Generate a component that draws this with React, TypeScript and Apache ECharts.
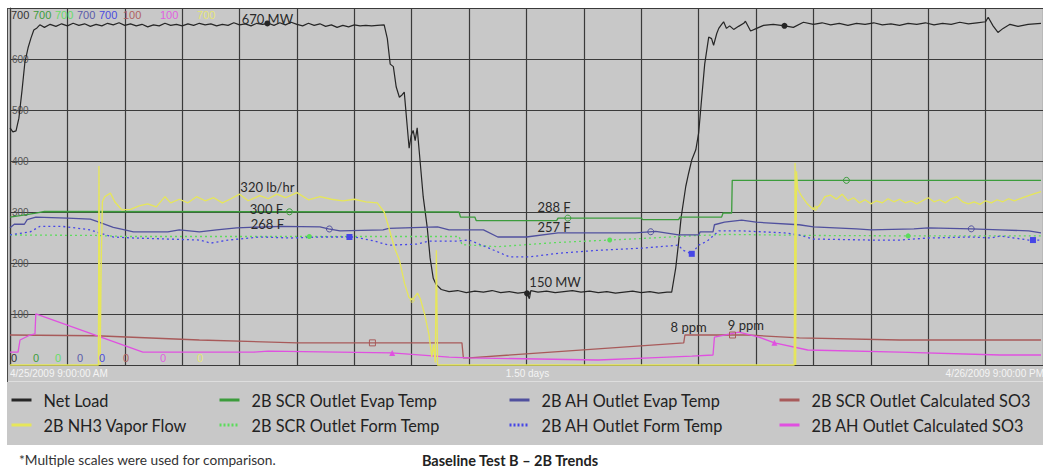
import React, { useEffect, useRef } from 'react';
import * as echarts from 'echarts';

// ---------- DATA ----------
const seriesNames = [
  'Net Load',
  '2B NH3 Vapor Flow',
  '2B SCR Outlet Evap Temp',
  '2B SCR Outlet Form Temp',
  '2B AH Outlet Evap Temp',
  '2B AH Outlet Form Temp',
  '2B SCR Outlet Calculated SO3',
  '2B AH Outlet Calculated SO3',
];

// time in hours since 4/25/2009 9:00 AM, value in MW
const netLoad: [number, number][] = [
  [0, 465], [0.1, 457], [0.21, 459], [0.31, 484], [0.42, 539], [0.52, 594], [0.63, 622], [0.73, 641], [0.83, 657], [0.94, 661],
  [1.04, 667], [1.2, 662], [1.4, 668], [1.6, 664], [1.8, 669], [2.0, 665], [2.2, 670], [2.4, 666], [2.6, 669], [2.8, 664],
  [3.0, 668], [3.2, 665], [3.4, 670], [3.6, 667], [3.8, 671], [4.0, 666], [4.2, 669], [4.4, 665], [4.6, 668], [4.8, 663],
  [5.0, 667], [5.2, 665], [5.4, 670], [5.6, 666], [5.8, 668], [6.0, 665], [6.2, 669], [6.4, 666], [6.6, 670], [6.8, 667],
  [7.0, 669], [7.2, 665], [7.4, 668], [7.6, 666], [7.8, 671], [8.0, 667], [8.2, 669], [8.4, 665], [8.6, 670], [8.8, 668],
  [9.0, 670], [9.2, 666], [9.4, 671], [9.6, 667], [9.8, 672], [10.0, 668], [10.2, 665], [10.4, 670], [10.6, 666], [10.8, 669],
  [11.0, 664], [11.2, 667], [11.4, 662], [11.6, 666], [11.8, 663], [12.0, 667], [12.2, 665], [12.4, 666], [12.6, 665], [12.8, 666],
  [13.04, 667], [13.15, 640], [13.25, 590], [13.36, 585], [13.46, 545], [13.57, 525], [13.67, 530], [13.74, 535], [13.84, 470],
  [13.91, 425], [13.98, 450], [14.05, 460], [14.12, 440], [14.19, 465], [14.26, 420], [14.4, 330], [14.54, 270], [14.64, 210],
  [14.75, 170], [14.85, 158], [15.03, 148], [15.3, 144], [15.6, 146], [15.9, 142], [16.2, 145], [16.5, 143], [16.8, 146],
  [17.1, 142], [17.4, 144], [17.7, 141], [18.0, 143], [18.1, 130], [18.15, 146], [18.4, 143], [18.7, 145], [19.0, 142],
  [19.3, 144], [19.6, 146], [19.9, 143], [20.2, 145], [20.5, 142], [20.8, 144], [21.1, 141], [21.4, 143], [21.7, 145],
  [22.0, 142], [22.3, 144], [22.6, 141], [22.9, 143], [23.06, 143], [23.2, 190], [23.3, 240], [23.39, 290], [23.55, 350],
  [23.65, 376], [23.76, 402], [23.9, 422], [24.0, 455], [24.1, 520], [24.21, 590], [24.35, 643], [24.45, 640], [24.52, 627],
  [24.63, 650], [24.7, 660], [24.8, 668], [24.87, 673], [24.97, 660], [25.08, 665], [25.22, 658], [25.39, 664], [25.57, 670],
  [25.63, 674], [25.81, 655], [26.02, 660], [26.26, 666], [26.6, 668], [27.0, 665], [27.3, 662], [27.65, 672], [28.0, 668],
  [28.3, 671], [28.6, 667], [28.9, 670], [29.2, 666], [29.5, 670], [29.8, 668], [30.1, 671], [30.4, 667], [30.7, 669],
  [31.0, 666], [31.3, 670], [31.6, 668], [31.9, 671], [32.2, 667], [32.5, 670], [32.8, 668], [33.1, 672], [33.4, 669],
  [33.7, 671], [34.0, 673], [34.09, 682], [34.26, 665], [34.43, 652], [34.61, 660], [34.85, 668], [35.13, 664], [35.48, 668],
  [35.93, 670],
];

// lb/hr
const nh3Flow: [number, number][] = [
  [0, 0], [3.08, 0], [3.1, 390], [3.14, 0], [3.18, 200], [3.22, 320], [3.3, 330], [3.5, 337], [3.65, 320], [3.9, 304],
  [4.2, 305], [4.5, 312], [4.8, 316], [5.1, 310], [5.4, 330], [5.6, 318], [5.9, 325], [6.2, 318], [6.5, 330], [6.8, 322],
  [7.1, 328], [7.4, 318], [7.7, 326], [8.0, 335], [8.3, 322], [8.7, 332], [9.0, 326], [9.3, 335], [9.6, 328], [10.0, 338],
  [10.4, 324], [10.8, 330], [11.2, 325], [11.6, 322], [12.0, 325], [12.4, 320], [12.8, 318], [13.04, 300], [13.2, 270],
  [13.4, 230], [13.57, 206], [13.75, 160], [13.9, 133], [14.02, 127], [14.2, 141], [14.3, 130], [14.45, 100], [14.6, 60],
  [14.7, 16], [14.76, 40], [14.82, 5], [14.86, 225], [14.9, 0], [27.33, 0], [27.36, 396], [27.38, 0], [27.41, 380],
  [27.45, 345], [27.6, 330], [27.8, 315], [28.0, 305], [28.2, 312], [28.4, 330], [28.6, 333], [28.8, 325], [29.0, 335],
  [29.2, 322], [29.4, 328], [29.6, 318], [29.8, 324], [30.0, 316], [30.2, 322], [30.4, 318], [30.6, 326], [30.8, 320],
  [31.0, 325], [31.2, 318], [31.4, 322], [31.6, 316], [31.8, 322], [32.0, 328], [32.2, 320], [32.4, 324], [32.6, 318],
  [32.8, 326], [33.0, 330], [33.2, 320], [33.4, 316], [33.6, 320], [33.8, 315], [34.0, 322], [34.2, 318], [34.4, 324],
  [34.6, 320], [34.8, 326], [35.0, 322], [35.3, 328], [35.6, 334], [35.93, 340],
];

// deg F
const scrEvapTemp: [number, number][] = [
  [0, 290], [0.35, 293], [0.9, 298], [1.2, 301], [15.65, 300], [15.7, 290], [16.2, 290], [16.25, 283], [19.05, 283],
  [19.1, 288], [22.0, 288], [22.05, 285], [23.3, 285], [23.35, 290], [24.8, 290], [24.85, 298], [25.15, 298], [25.17, 362],
  [35.93, 362],
];

const scrFormTemp: [number, number][] = [
  [0, 255], [3, 254], [4, 252], [8, 252], [12, 252], [15.65, 252], [15.75, 236], [17, 232], [19, 240], [20.5, 244],
  [22, 248], [24, 254], [25, 256], [28, 254], [32, 253], [35.93, 253],
];

const ahEvapTemp: [number, number][] = [
  [0, 269], [0.15, 276], [0.5, 276], [0.6, 285], [0.9, 290], [2.0, 288], [2.8, 286], [3.1, 280], [3.6, 270], [4.0, 265],
  [4.3, 261], [5.5, 261], [5.9, 265], [6.6, 261], [7.2, 265], [7.9, 269], [9.5, 272], [10.8, 271], [11.1, 267], [11.5, 263],
  [13.0, 265], [13.2, 268], [14.9, 271], [15.3, 265], [16.5, 265], [17.0, 251], [18.0, 251], [19.1, 259], [21.8, 259],
  [22.5, 262], [23.3, 255], [24.0, 255], [24.05, 261], [24.5, 261], [24.55, 275], [24.9, 280], [25.5, 284], [26.0, 280],
  [27.5, 275], [28.0, 271], [29.5, 267], [30.0, 265], [31.5, 267], [32.0, 269], [33.5, 267], [34.5, 265], [35.5, 263],
  [35.93, 259],
];

const ahFormTemp: [number, number][] = [
  [0, 255], [0.7, 261], [1.05, 272], [1.8, 272], [2.8, 265], [3.1, 259], [3.6, 251], [4.3, 249], [5.5, 247], [6.6, 245],
  [7.0, 239], [7.6, 245], [8.7, 251], [9.8, 249], [10.8, 251], [12.0, 251], [12.7, 243], [13.2, 235], [14.2, 237],
  [14.6, 243], [15.6, 243], [16.0, 245], [16.7, 229], [17.4, 212], [18.1, 212], [19.1, 219], [20.5, 225], [22.0, 229],
  [23.3, 235], [23.45, 225], [23.76, 218], [24.0, 235], [24.3, 243], [24.7, 263], [25.5, 263], [27.0, 259], [27.5, 255],
  [28.0, 247], [30.0, 245], [31.0, 245], [32.0, 249], [33.5, 251], [34.2, 249], [34.5, 253], [35.5, 245], [35.93, 245],
];

// ppm
const scrSO3: [number, number][] = [
  [0, 8.4], [3, 8.2], [6.6, 7.0], [10, 6.2], [15.75, 6.2], [15.8, 2.0], [16.0, 2.0], [23.48, 6.2], [23.52, 8.4],
  [25.7, 8.4], [27.5, 7.6], [31, 7.0], [35.93, 7.0],
];

const ahSO3: [number, number][] = [
  [0, 3.6], [0.28, 3.6], [0.35, 7.0], [0.7, 8.4], [0.87, 8.7], [0.9, 14.3], [4.63, 3.6], [8.5, 3.6], [9.0, 3.9],
  [13.3, 3.4], [15.3, 2.2], [16.0, 2.0], [20.5, 1.4], [22.3, 2.0], [23.76, 2.5], [24.5, 2.8], [24.55, 7.8], [25.4, 9.2],
  [26.1, 7.8], [26.64, 6.2], [27.8, 4.2], [31, 3.6], [34.5, 2.8], [35.93, 2.8],
];

// pen marker times (hours)
const netLoadMarks = [8.97, 18.02, 26.99];
const nh3Marks = [14.02, 28.07];
const scrEvapMarks = [9.74, 19.44, 29.15];
const scrFormMarks = [10.43, 20.9, 31.3];
const ahEvapMarks = [11.13, 22.33, 33.5];
const ahFormMarks = [11.83, 23.76, 35.65];
const scrSO3Marks = [12.63, 25.18];
const ahSO3Marks = [13.32, 26.64];

const annotationTexts = ['670 MW', '150 MW', '320 lb/hr', '300 F', '268 F', '288 F', '257 F', '8 ppm', '9 ppm'];
const annotationSeries = [0, 0, 1, 2, 4, 2, 4, 6, 7];
const annotationTimes = [8.97, 18.02, 8.97, 9.74, 8.97, 18.96, 18.96, 23.65, 25.4];

const scaleTopLabels = ['700', '700', '700', '700', '700', '100', '100', '700'];
const scaleBottomLabels = ['0', '0', '0', '0', '0', '0', '0', '0'];

const timeSpanHours = 36;
const xAxisLabels = ['4/25/2009 9:00:00 AM', '1.50 days', '4/26/2009 9:00:00 PM'];
const footnote = '*Multiple scales were used for comparison.';
const caption = 'Baseline Test B \u2013 2B Trends';

const legendColumns = [[0, 1], [2, 3], [4, 5], [6, 7]];

// ---------- STYLE / LAYOUT ----------
const W = 1043;
const H = 470;
const gridL = 10, gridT = 8, gridW = 1035, gridH = 357;
const plotBg = '#c8c8c8';
const seriesColors = ['#262626', '#e6e65a', '#3c9c3c', '#5cdc5c', '#50509e', '#4646e6', '#a85a5a', '#e050e0'];
const scaleLabelColors = ['#333333', '#3c9c3c', '#66dd66', '#5a5aaa', '#4a4ae0', '#b06060', '#e060e0', '#e6e676'];
const seriesDash: any[] = ['solid', 'solid', 'solid', [2, 3], 'solid', [2, 3], 'solid', 'solid'];
const seriesWidth = [1.2, 1.3, 1.3, 1.3, 1.3, 1.3, 1.3, 1.3];
const seriesAxis = [0, 0, 0, 0, 0, 0, 1, 1];
const allData = [netLoad, nh3Flow, scrEvapTemp, scrFormTemp, ahEvapTemp, ahFormTemp, scrSO3, ahSO3];
const allMarks = [netLoadMarks, nh3Marks, scrEvapMarks, scrFormMarks, ahEvapMarks, ahFormMarks, scrSO3Marks, ahSO3Marks];
const markShape = ['circle', 'circle', 'circle', 'circle', 'circle', 'rect', 'rect', 'triangle'];
const markFilled = [true, false, false, true, false, true, false, true];
const markSize = [6, 4, 6, 5, 6, 6, 6, 6];
const annotationOffsets = [[0, -4], [28, -11], [0, -11], [-23, -3], [0, -3], [0, -14], [0, -6], [0, -8], [7, -7]];
const scaleLabelX = [11, 33, 55, 77, 99, 123, 160, 197];

function interp(data: [number, number][], t: number): number {
  for (let i = 0; i < data.length - 1; i++) {
    const [t0, v0] = data[i];
    const [t1, v1] = data[i + 1];
    if (t >= t0 && t <= t1) {
      if (t1 === t0) return v0;
      return v0 + ((v1 - v0) * (t - t0)) / (t1 - t0);
    }
  }
  return data[data.length - 1][1];
}

function buildOption(): any {
  const series = seriesNames.map((name, i) => {
    const data = allData[i];
    const markers = allMarks[i].map((t) => ({
      coord: [t, interp(data, t)],
      symbol: markShape[i],
      symbolSize: markSize[i],
      itemStyle: markFilled[i]
        ? { color: seriesColors[i], borderWidth: 0 }
        : { color: 'rgba(0,0,0,0)', borderColor: seriesColors[i], borderWidth: 1 },
      label: { show: false },
    }));
    const notes = annotationTexts
      .map((text, k) => ({ text, k }))
      .filter(({ k }) => annotationSeries[k] === i)
      .map(({ text, k }) => ({
        coord: [annotationTimes[k], interp(data, annotationTimes[k])],
        symbol: 'circle',
        symbolSize: 1,
        itemStyle: { color: 'rgba(0,0,0,0)' },
        label: {
          show: true,
          formatter: text,
          position: 'inside',
          offset: annotationOffsets[k],
          color: '#2a2a2a',
          fontFamily: 'Lato',
          fontSize: 13,
        },
      }));
    return {
      name,
      type: 'line',
      data,
      yAxisIndex: seriesAxis[i],
      symbol: 'none',
      clip: false,
      z: i === 1 ? 3 : 2,
      lineStyle: { color: seriesColors[i], width: seriesWidth[i], type: seriesDash[i] },
      itemStyle: { color: seriesColors[i] },
      markPoint: {
        silent: true,
        animation: false,
        label: { show: false },
        data: [...markers, ...notes],
      },
    };
  });

  const legends = legendColumns.map((col, ci) => ({
    show: true,
    orient: 'vertical',
    left: [10, 218, 508, 778][ci],
    top: 392,
    itemGap: 9,
    itemWidth: 20,
    itemHeight: 14,
    selectedMode: false,
    padding: 0,
    itemStyle: { opacity: 0 },
    textStyle: { fontFamily: 'Lato', fontSize: 16.3, color: '#222', padding: [0, 0, 0, 7], lineHeight: 14 },
    data: col.map((si) => ({
      name: seriesNames[si],
      itemStyle: { opacity: 0 },
      lineStyle: {
        color: seriesColors[si],
        width: 3,
        type: seriesDash[si] === 'solid' ? 'solid' : [2, 2],
        opacity: 1,
      },
    })),
  }));

  const graphics: any[] = [
    { type: 'rect', shape: { x: 7, y: gridT + gridH, width: W - 7, height: 445 - gridT - gridH }, style: { fill: plotBg }, silent: true },
    { type: 'rect', shape: { x: 7, y: gridT, width: gridL - 7, height: gridH }, style: { fill: plotBg }, silent: true },
    { type: 'line', shape: { x1: 7, y1: 381.5, x2: W, y2: 381.5 }, style: { stroke: '#dedede', lineWidth: 1 }, silent: true },
    { type: 'line', shape: { x1: 7.5, y1: gridT, x2: 7.5, y2: 382 }, style: { stroke: '#4a4a4a', lineWidth: 1 }, silent: true },
    { type: 'line', shape: { x1: 7, y1: gridT + 0.5, x2: W, y2: gridT + 0.5 }, style: { stroke: '#4a4a4a', lineWidth: 1 }, silent: true },
  ];
  scaleTopLabels.forEach((txt, i) => {
    graphics.push({
      type: 'text', z: 100, silent: true,
      style: { text: txt, x: scaleLabelX[i], y: 15, fill: scaleLabelColors[i], font: '11px "Liberation Sans"', align: 'left', verticalAlign: 'middle' },
    });
  });
  scaleBottomLabels.forEach((txt, i) => {
    graphics.push({
      type: 'text', z: 100, silent: true,
      style: { text: txt, x: scaleLabelX[i], y: 358, fill: scaleLabelColors[i], font: '11px "Liberation Sans"', align: 'left', verticalAlign: 'middle' },
    });
  });
  const xl = [
    { x: gridL, align: 'left' },
    { x: gridL + gridW / 2, align: 'center' },
    { x: W + 1, align: 'right' },
  ];
  xAxisLabels.forEach((txt, i) => {
    graphics.push({
      type: 'text', z: 100, silent: true,
      style: { text: txt, x: xl[i].x, y: 373, fill: '#f4f4f4', font: '10px "Liberation Sans"', align: xl[i].align, verticalAlign: 'middle' },
    });
  });
  graphics.push({
    type: 'text', silent: true,
    style: { text: footnote, x: 19, y: 459, fill: '#333', font: '13.7px Lato', align: 'left', verticalAlign: 'middle' },
  });
  graphics.push({
    type: 'text', silent: true,
    style: { text: caption, x: 510, y: 460, fill: '#222', font: 'bold 14.5px Lato', align: 'center', verticalAlign: 'middle' },
  });

  return {
    animation: false,
    backgroundColor: '#ffffff',
    grid: {
      left: gridL, top: gridT, width: gridW, height: gridH,
      show: true, backgroundColor: plotBg, borderWidth: 0, containLabel: false,
    },
    xAxis: {
      type: 'value',
      min: 0,
      max: timeSpanHours,
      interval: 2,
      axisLine: { show: false },
      axisTick: { show: false },
      axisLabel: { show: false },
      splitLine: { show: true, lineStyle: { color: '#3a3a3a', width: 1.2 } },
    },
    yAxis: [
      {
        type: 'value',
        min: 0,
        max: 700,
        interval: 100,
        axisLine: { show: true, lineStyle: { color: '#3a3a3a', width: 1.2 } },
        axisTick: { show: false },
        axisLabel: {
          show: true,
          inside: true,
          margin: 2,
          color: '#555',
          fontSize: 10,
          fontFamily: 'Liberation Sans',
          formatter: (v: number) => (v === 0 || v === 700 ? '' : String(v)),
        },
        splitLine: { show: true, lineStyle: { color: '#3a3a3a', width: 1.2 } },
      },
      { type: 'value', min: 0, max: 100, show: false, splitLine: { show: false } },
    ],
    legend: legends,
    graphic: graphics,
    series,
  };
}

export default function App() {
  const ref = useRef<HTMLDivElement>(null);
  useEffect(() => {
    if (!ref.current) return;
    const chart = echarts.init(ref.current, undefined, { renderer: 'svg' });
    chart.setOption(buildOption());
    return () => chart.dispose();
  }, []);
  return (
    <div
      ref={ref}
      style={{ position: 'fixed', left: 0, top: 0, width: W, height: H, background: '#fff' }}
    />
  );
}
